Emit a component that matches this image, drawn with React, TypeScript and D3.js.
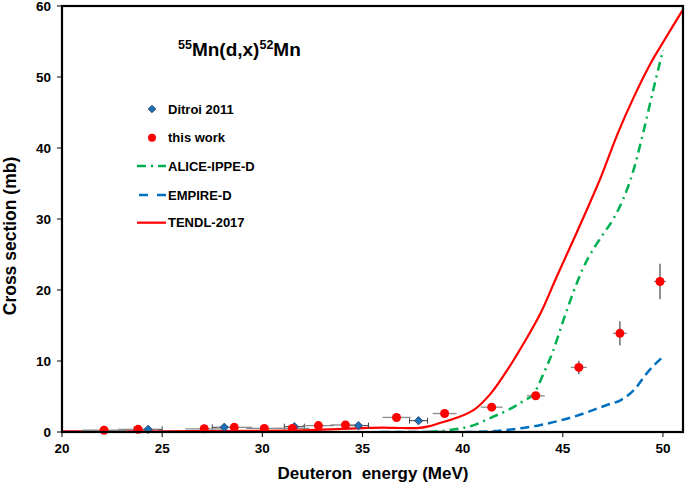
import React from "react";
import * as d3 from "d3";

const xTicks = [20, 25, 30, 35, 40, 45, 50];
const yTicks = [0, 10, 20, 30, 40, 50, 60];

// Ditroi 2011
const ditE = [24.3, 28.1, 31.6, 34.8, 37.8];
const ditS = [0.37, 0.66, 0.75, 0.9, 1.6];
const ditDE = [0.7, 0.6, 0.5, 0.5, 0.45];
const ditDS = [0.05, 0.07, 0.08, 0.09, 0.15];

// this work
const twE = [22.1, 23.8, 27.1, 28.6, 30.1, 31.5, 32.8, 34.15, 36.7, 39.1, 41.45, 43.65, 45.8, 47.85, 49.85];
const twS = [0.25, 0.37, 0.45, 0.66, 0.5, 0.5, 0.9, 1.0, 2.05, 2.6, 3.5, 5.1, 9.1, 13.9, 21.2];
const twDE = [1.1, 1.0, 0.95, 0.9, 0.9, 0.85, 0.8, 0.75, 0.7, 0.6, 0.55, 0.45, 0.4, 0.35, 0.3];
const twDS = [0.05, 0.05, 0.05, 0.06, 0.05, 0.05, 0.08, 0.1, 0.15, 0.2, 0.3, 0.5, 0.95, 1.7, 2.5];

// ALICE-IPPE-D
const aliceE = [38.3, 39.4, 40.6, 41.4, 42.2, 43.0, 43.6, 44.0, 44.5, 45.0, 45.5, 46.0, 46.6, 47.0, 47.5, 48.0, 48.5, 49.0, 49.5, 50.0];
const aliceS = [0, 0.3, 1.0, 2.0, 3.0, 4.3, 5.6, 8.0, 11.3, 15.5, 19.5, 23.0, 26.1, 27.8, 29.9, 32.7, 36.6, 42.0, 48.0, 53.8];

// EMPIRE-D
const empE = [35.9, 40.0, 41.4, 42.55, 43.9, 45.6, 47.2, 47.9, 48.55, 49.2, 50.0];
const empS = [0, 0.0, 0.1, 0.4, 1.0, 2.2, 3.8, 4.5, 5.9, 8.3, 10.6];

// TENDL-2017
const tenE = [20, 25, 30, 32, 34, 35, 36, 37, 37.7, 38.3, 38.9, 39.7, 40.6, 41.4, 42.2, 43.05, 43.9, 44.7, 45.6, 46.2, 46.9, 47.75, 48.55, 49.4, 49.9, 51];
const tenS = [0.08, 0.1, 0.15, 0.25, 0.45, 0.55, 0.62, 0.56, 0.55, 0.8, 1.3, 2.0, 3.2, 5.4, 8.6, 12.5, 16.8, 21.9, 27.5, 31.3, 35.9, 42.1, 47.2, 52.0, 54.4, 59.5];

const FONT = "'Liberation Sans', Arial, Helvetica, sans-serif";

export default function App() {
  const L = 62, R = 683, T = 6, B = 432;
  const x = d3.scaleLinear().domain([20, 51]).range([L, R]);
  const y = d3.scaleLinear().domain([0, 60]).range([B, T]);
  const line = (es: number[], ss: number[], curve: d3.CurveFactory) =>
    d3.line<number>().x((_, i) => x(es[i])).y((_, i) => y(ss[i])).curve(curve)(es) || "";

  const legendY = [109, 137.7, 166, 195, 222.7];
  const legendTexts = ["Ditroi 2011", "this work", "ALICE-IPPE-D", "EMPIRE-D", "TENDL-2017"];

  const diamond = (cx: number, cy: number, r: number) =>
    `M${cx},${cy - r}L${cx + r},${cy}L${cx},${cy + r}L${cx - r},${cy}Z`;

  return (
    <svg width={685} height={486} style={{ position: "absolute", left: 0, top: 0, background: "#fff" }} fontFamily={FONT}>
      <defs>
        <clipPath id="plot">
          <rect x={L} y={T} width={R - L} height={B - T} />
        </clipPath>
      </defs>
      <rect x={0} y={0} width={685} height={486} fill="#fff" />

      {/* ticks */}
      {xTicks.map((t) => (
        <g key={"xt" + t}>
          <line x1={x(t)} x2={x(t)} y1={B} y2={B + 5} stroke="#000" strokeWidth={1} />
          <text x={x(t)} y={453} textAnchor="middle" fontSize={13.5} fontWeight="bold">{t}</text>
        </g>
      ))}
      {yTicks.map((t) => (
        <g key={"yt" + t}>
          <line x1={L - 5} x2={L} y1={y(t)} y2={y(t)} stroke="#000" strokeWidth={1} />
          <text x={51} y={y(t) + 5} textAnchor="end" fontSize={13.5} fontWeight="bold">{t}</text>
        </g>
      ))}

      {/* curves */}
      <g clipPath="url(#plot)" fill="none">
        <path d={line(empE, empS, d3.curveMonotoneX)} stroke="#0070c0" strokeWidth={2.5} strokeDasharray="9,5" />
        <path d={line(aliceE, aliceS, d3.curveMonotoneX)} stroke="#00b050" strokeWidth={2.5} strokeDasharray="9,5,2,5" />
        <path d={line(tenE, tenS, d3.curveCatmullRom.alpha(0.5))} stroke="#ff0000" strokeWidth={2.2} />
      </g>

      {/* Ditroi error bars and markers */}
      {ditE.map((e, i) => {
        const cx = x(e), cy = y(ditS[i]);
        const x1 = x(e - ditDE[i]), x2 = x(e + ditDE[i]);
        return (
          <g key={"d" + i} stroke="#404040" strokeWidth={1}>
            <line x1={x1} x2={x2} y1={cy} y2={cy} />
            <line x1={x1} x2={x1} y1={cy - 3} y2={cy + 3} />
            <line x1={x2} x2={x2} y1={cy - 3} y2={cy + 3} />
            <line x1={cx} x2={cx} y1={y(ditS[i] - ditDS[i])} y2={y(ditS[i] + ditDS[i])} />
          </g>
        );
      })}
      {/* this work error bars */}
      {twE.map((e, i) => {
        const cy = y(twS[i]), cx = x(e);
        return (
          <g key={"te" + i}>
            <line x1={x(e - twDE[i])} x2={x(e + twDE[i])} y1={cy} y2={cy} stroke="#8c8c8c" strokeWidth={1.3} />
            <line x1={cx} x2={cx} y1={y(twS[i] - twDS[i])} y2={y(twS[i] + twDS[i])} stroke="#555" strokeWidth={1.3} />
          </g>
        );
      })}
      {ditE.map((e, i) => (
        <path key={"dm" + i} d={diamond(x(e), y(ditS[i]), 4.2)} fill="#1f6fb4" stroke="#1a3d66" strokeWidth={0.8} />
      ))}
      {twE.map((e, i) => (
        <circle key={"tm" + i} cx={x(e)} cy={y(twS[i])} r={4.5} fill="#ff0000" />
      ))}

      {/* frame */}
      <rect x={L} y={T} width={R - L} height={B - T} fill="none" stroke="#000" strokeWidth={2.2} />

      {/* title */}
      <text x={178} y={56} fontSize={19} fontWeight="bold">
        <tspan fontSize={12.5} dy={-7}>55</tspan>
        <tspan dy={7}>Mn(d,x)</tspan>
        <tspan fontSize={12.5} dy={-7}>52</tspan>
        <tspan dy={7}>Mn</tspan>
      </text>

      {/* legend */}
      <path d={diamond(152, legendY[0], 3.8)} fill="#1f6fb4" stroke="#1a3d66" strokeWidth={0.8} />
      <circle cx={152} cy={legendY[1]} r={4} fill="#ff0000" />
      <line x1={137} x2={166} y1={legendY[2]} y2={legendY[2]} stroke="#00b050" strokeWidth={2.5} strokeDasharray="9,5,2,5" />
      <line x1={137} x2={166} y1={legendY[3]} y2={legendY[3]} stroke="#0070c0" strokeWidth={2.5} strokeDasharray="9,9" strokeDashoffset={-2} />
      <line x1={137} x2={166} y1={legendY[4]} y2={legendY[4]} stroke="#ff0000" strokeWidth={2.2} />
      {legendTexts.map((t, i) => (
        <text key={t} x={168} y={legendY[i] + 4.5} fontSize={13} fontWeight="bold">{t}</text>
      ))}

      {/* axis titles */}
      <text x={373} y={479} textAnchor="middle" fontSize={17} fontWeight="bold" xmlSpace="preserve">Deuteron  energy (MeV)</text>
      <text transform="translate(16,236) rotate(-90)" textAnchor="middle" fontSize={17.5} fontWeight="bold">Cross section (mb)</text>
    </svg>
  );
}
